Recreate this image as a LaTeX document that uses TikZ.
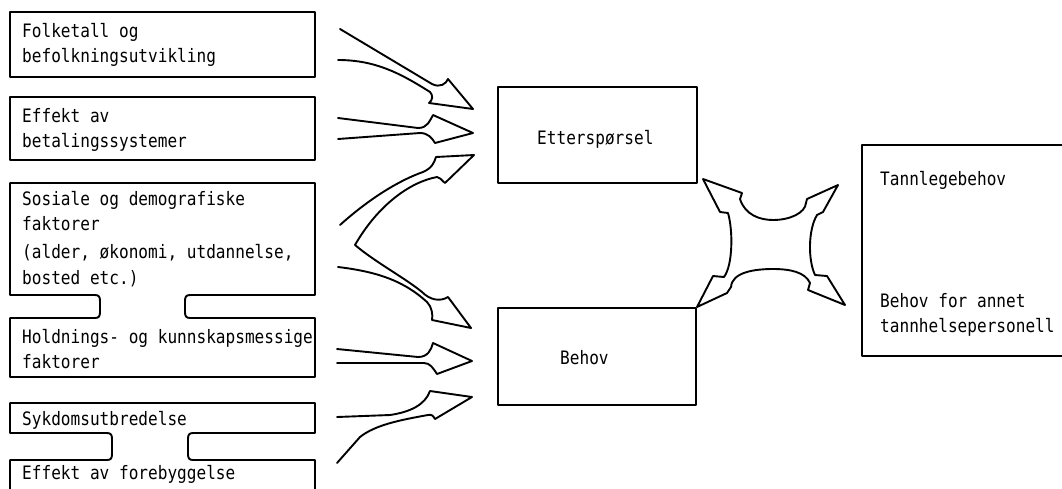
\documentclass[tikz,border=0pt]{standalone}
\usepackage{fontspec}
\newfontfamily\tw[FakeStretch=0.87]{DejaVu Sans Mono}
\begin{document}
\begin{tikzpicture}[x=1pt,y=-1pt,
  outline/.style={line width=1.9pt, line join=round, line cap=round},
  txt/.style={font=\tw\fontsize{18.5}{22}\selectfont, anchor=base west, inner sep=0pt}]
\useasboundingbox (0,0) rectangle (1062,488);
\clip (0,0) rectangle (1062,488);
% left boxes
\draw[outline] (10,12) rectangle (315,77);
\draw[outline] (10,97) rectangle (315,160);
\draw[outline] (10,183) -- (315,183) -- (315,295) -- (190,295)
  .. controls (186,295) and (185,297) .. (185,301) -- (185,312)
  .. controls (185,316) and (186,318) .. (190,318) -- (315,318) -- (315,377)
  -- (10,377) -- (10,318) -- (95,318)
  .. controls (99,318) and (100,316) .. (100,312) -- (100,301)
  .. controls (100,297) and (99,295) .. (95,295) -- (10,295) -- cycle;
\draw[outline] (10,403) -- (315,403) -- (315,433) -- (193,433)
  .. controls (189,433) and (188,435) .. (188,439) -- (188,454)
  .. controls (188,458) and (189,460) .. (193,460) -- (315,460) -- (315,500)
  -- (10,500) -- (10,460) -- (107,460)
  .. controls (111,460) and (112,458) .. (112,454) -- (112,439)
  .. controls (112,435) and (111,433) .. (107,433) -- (10,433) -- cycle;
% middle and right boxes
\draw[outline] (498,87) rectangle (697,183);
\draw[outline] (498,308) rectangle (696,405);
\draw[outline] (862,145) rectangle (1075,356);
% texts
\node[txt] (t1a) at (22,37) {Folketall og};
\node[txt] (t1b) at (22,62) {befolkningsutvikling};
\node[txt] (t2a) at (22,122) {Effekt av};
\node[txt] (t2b) at (22,147) {betalingssystemer};
\node[txt] (t3a) at (22,205) {Sosiale og demografiske};
\node[txt] (t3b) at (22,230) {faktorer};
\node[txt] (t3c) at (22,258) {(alder, økonomi, utdannelse,};
\node[txt] (t3d) at (22,284) {bosted etc.)};
\node[txt] (t4a) at (22,343) {Holdnings- og kunnskapsmessige};
\node[txt] (t4b) at (22,368) {faktorer};
\node[txt] (t5) at (22,425) {Sykdomsutbredelse};
\node[txt] (t6) at (22,479) {Effekt av forebyggelse};
\node[txt] (ett) at (537,144) {Etterspørsel};
\node[txt] (beh) at (560,364) {Behov};
\node[txt] (tl) at (880,185) {Tannlegebehov};
\node[txt] (ba) at (880,307) {Behov for annet};
\node[txt] (bb) at (880,332) {tannhelsepersonell};
% arrow 1
\draw[outline] (340,29) -- (432,84) .. controls (440,88) and (446,84) .. (448,79)
  -- (473,109) -- (429,103) .. controls (433,100) and (433,95) .. (430,92)
  .. controls (400,73) and (375,60) .. (338,60);
% arrow 2
\draw[outline] (338,118) -- (418,128) .. controls (428,128) and (430,120) .. (433,115)
  -- (473,133) -- (435,143) .. controls (432,138) and (428,133) .. (420,133) -- (338,139);
% arrows 3 and 4
\draw[outline] (340,225) .. controls (370,198) and (400,180) .. (423,172)
  .. controls (432,168) and (434,163) .. (436,157) -- (474,155) -- (445,183)
  .. controls (441,180) and (440,177) .. (437,177)
  .. controls (410,182) and (378,205) .. (355,245)
  .. controls (375,262) and (405,278) .. (422,292)
  .. controls (430,300) and (440,302) .. (448,297) -- (471,328) -- (432,320)
  .. controls (433,315) and (432,307) .. (427,302)
  .. controls (405,282) and (380,272) .. (338,267);
% arrow 5
\draw[outline] (337,349) -- (418,357) .. controls (428,357) and (431,350) .. (433,343)
  -- (472,361) -- (437,374) .. controls (433,368) and (430,363) .. (424,363) -- (337,363);
% arrow 6
\draw[outline] (337,417) -- (390,415) .. controls (410,412) and (425,405) .. (430,391)
  -- (472,397) -- (435,419) .. controls (433,416) and (432,414) .. (428,415)
  .. controls (400,420) and (375,425) .. (360,437) -- (337,463);
% four-way arrow
\draw[outline] (703,179) -- (742,193) -- (740,199)
  .. controls (745,215) and (760,220) .. (773,220)
  .. controls (790,220) and (805,213) .. (806,203) -- (807,199) -- (838,185)
  -- (823,212) -- (817,215) .. controls (808,230) and (808,260) .. (815,275)
  -- (827,276) -- (845,305) -- (808,290) -- (810,283)
  .. controls (805,272) and (790,269) .. (773,269)
  .. controls (755,269) and (732,272) .. (731,287) -- (727,293) -- (697,307)
  -- (713,276) -- (724,277) .. controls (733,265) and (733,230) .. (728,213)
  -- (720,212) -- cycle;
\end{tikzpicture}
\end{document}
